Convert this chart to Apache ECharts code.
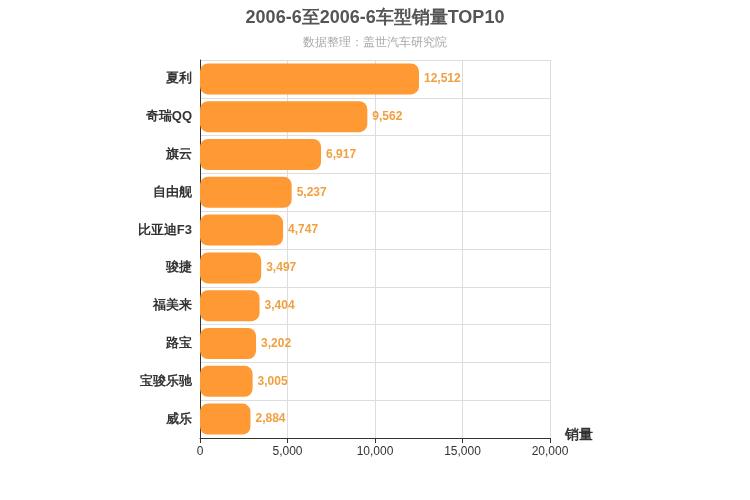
<!DOCTYPE html>
<html>
<head>
<meta charset="utf-8">
<script src="https://cdn.jsdelivr.net/npm/echarts@6/dist/echarts.min.js"></script>
<style>html,body{margin:0;padding:0;}#main{width:750px;height:500px;}</style>
</head>
<body>
<div id="main"></div>
<script>
var models = ['夏利', '奇瑞QQ', '旗云', '自由舰', '比亚迪F3', '骏捷', '福美来', '路宝', '宝骏乐驰', '威乐'];
var sales = [12512, 9562, 6917, 5237, 4747, 3497, 3404, 3202, 3005, 2884];

var myChart = echarts.init(document.getElementById('main'));
var option = {
    title: {
        text: '2006-6至2006-6车型销量TOP10',
        subtext: '数据整理：盖世汽车研究院',
        left: 'center',
        top: 4,
        itemGap: 10,
        textStyle: { color: '#555', fontSize: 18, fontWeight: 'bold' },
        subtextStyle: { color: '#aaa', fontSize: 12 }
    },
    grid: { left: 200, right: 200, top: 60, bottom: 62 },
    xAxis: {
        type: 'value',
        min: 0,
        max: 20000,
        interval: 5000,
        name: '销量',
        nameLocation: 'end',
        nameGap: 15,
        nameTextStyle: { color: '#333', fontSize: 14, fontWeight: 'bold', verticalAlign: 'top', padding: [-10, 0, 0, 0] },
        axisLine: { show: true, lineStyle: { color: '#333' } },
        axisTick: { show: true },
        axisLabel: { color: '#333', formatter: function (v) { return v.toLocaleString('en-US'); } },
        splitLine: { lineStyle: { color: '#ddd' } }
    },
    yAxis: {
        type: 'category',
        inverse: true,
        data: models,
        axisLine: { show: true, lineStyle: { color: '#333' } },
        axisTick: { show: false },
        axisLabel: { color: '#333', fontSize: 13, fontWeight: 'bold' },
        splitLine: { show: true, lineStyle: { color: '#ddd' } }
    },
    series: [{
        type: 'bar',
        data: sales,
        barWidth: '82%',
        itemStyle: { color: '#ff9933', borderRadius: 8 },
        label: {
            show: true,
            position: 'right',
            color: '#f0a040',
            fontWeight: 'bold',
            formatter: function (p) { return p.value.toLocaleString('en-US'); }
        }
    }]
};
myChart.setOption(option);
</script>
</body>
</html>
